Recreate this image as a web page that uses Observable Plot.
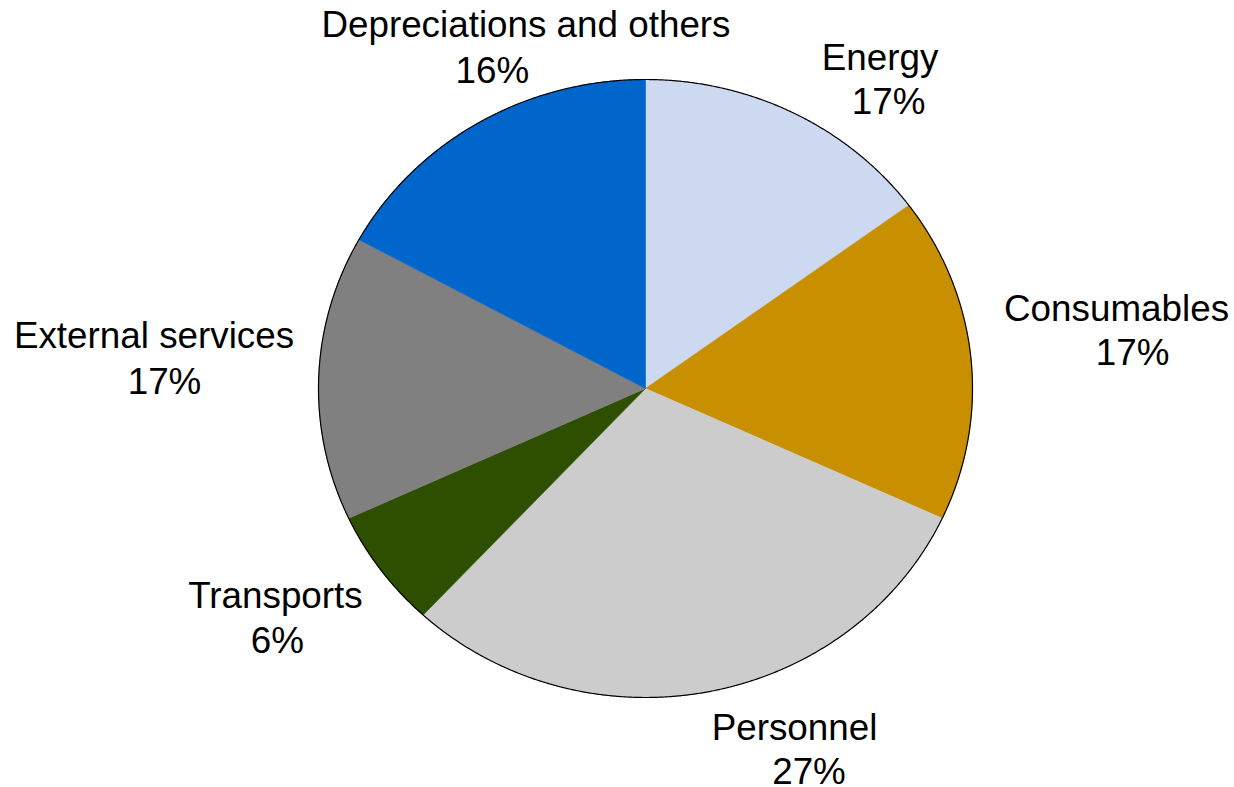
<!DOCTYPE html>
<html><head><meta charset="utf-8">
<script src="https://cdn.jsdelivr.net/npm/d3@7"></script>
<script src="https://cdn.jsdelivr.net/npm/@observablehq/plot@0.6"></script>
<style>body{margin:0;background:#fff;overflow:hidden}</style>
</head><body><div id="chart"></div>
<script>
// ---- data ----
const categories = ["Energy", "Consumables", "Personnel", "Transports", "External services", "Depreciations and others"];
const shares = [14.9, 17.0, 30.0, 6.2, 14.9, 17.0];
const percentLabels = ["17%", "17%", "27%", "6%", "17%", "16%"];

// ---- style ----
const colors = ["#CCD9F0", "#C89000", "#CCCCCC", "#2F4F00", "#808080", "#0066CC"];
// label offsets in px from each slice's outer mid-point: [dx name, dy name, dx pct, dy pct]
const labelOffsets = [
  [87, -43, 95.5, 1],
  [145.7, -36, 161.7, 8],
  [85.7, 48.8, 100.2, 92.5],
  [-105.5, 37.4, -103.5, 82.4],
  [-164.7, -30.3, -154.2, 15.7],
  [46.9, -86, 13.4, -40]
];

const arcs = d3.pie().sort(null).value(d => d)(shares);
const step = Math.PI / 720;
const piePts = [];
arcs.forEach((a, i) => {
  const name = categories[i];
  piePts.push({name, x: 0, y: 0});
  const n = Math.max(2, Math.ceil((a.endAngle - a.startAngle) / step));
  for (let k = 0; k <= n; k++) {
    const t = a.startAngle + (a.endAngle - a.startAngle) * k / n;
    piePts.push({name, x: Math.sin(t), y: Math.cos(t)});
  }
  piePts.push({name, x: 0, y: 0});
});
const ringPts = d3.range(0, 1441).map(k => {
  const t = 2 * Math.PI * k / 1440;
  return {x: Math.sin(t), y: Math.cos(t)};
});

const labelMarks = [];
arcs.forEach((a, i) => {
  const m = (a.startAngle + a.endAngle) / 2;
  const anchor = [{x: Math.sin(m), y: Math.cos(m)}];
  const [dx1, dy1, dx2, dy2] = labelOffsets[i];
  const common = {x: "x", y: "y", textAnchor: "middle", lineAnchor: "bottom", fontSize: 36.8, fill: "#000"};
  labelMarks.push(Plot.text(anchor, {...common, text: () => categories[i], dx: dx1, dy: dy1}));
  labelMarks.push(Plot.text(anchor, {...common, text: () => percentLabels[i], dx: dx2, dy: dy2}));
});

const chart = Plot.plot({
  width: 1234,
  height: 787,
  margin: 0,
  style: {fontFamily: "'Liberation Sans', Arial, sans-serif", background: "#fff"},
  x: {domain: [-1, 1], range: [318, 972], axis: null},
  y: {domain: [-1, 1], range: [697, 79], axis: null},
  color: {domain: categories, range: colors},
  marks: [
    Plot.line(piePts, {x: "x", y: "y", z: "name", fill: "name", stroke: "name", strokeWidth: 0.6, curve: "linear"}),
    Plot.line(ringPts, {x: "x", y: "y", stroke: "#000", strokeWidth: 1.2, curve: "linear"}),
    ...labelMarks
  ]
});
document.getElementById("chart").appendChild(chart);
</script>
</body></html>
